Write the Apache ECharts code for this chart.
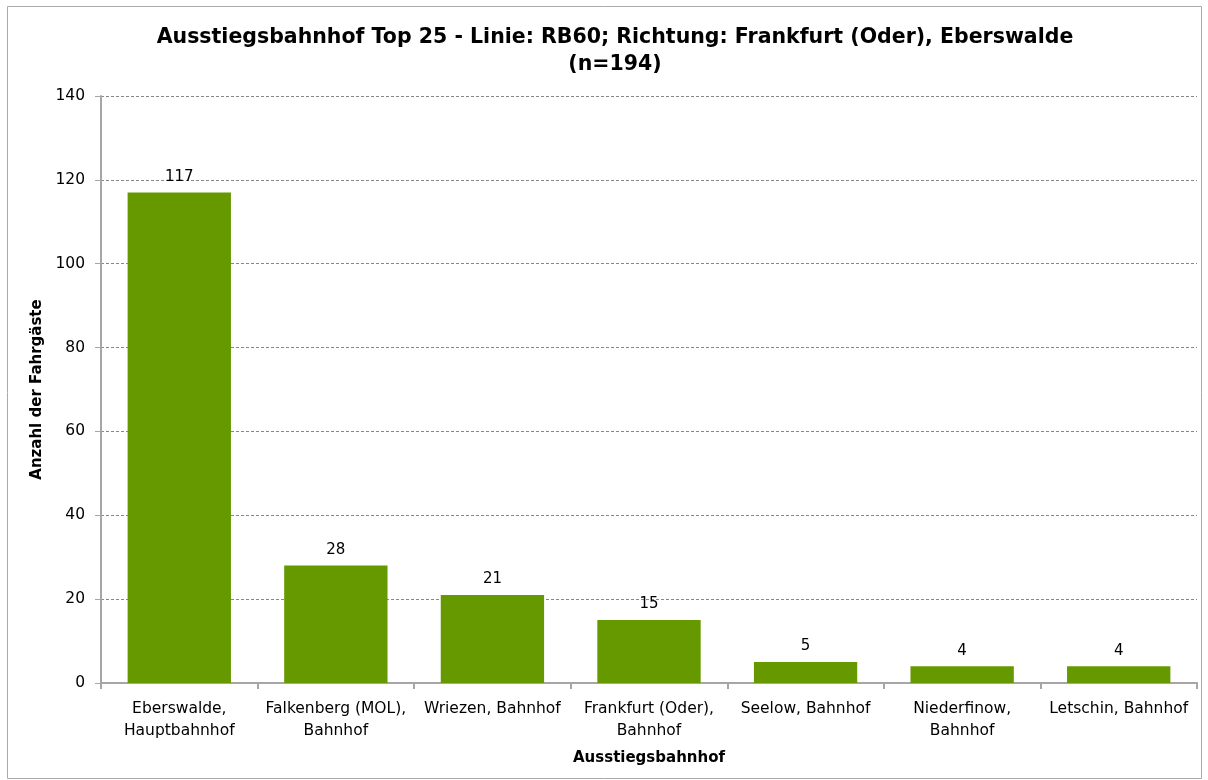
<!DOCTYPE html>
<html>
<head>
<meta charset="utf-8">
<script src="https://cdn.jsdelivr.net/npm/echarts@6/dist/echarts.min.js"></script>
<style>
  html, body { margin: 0; padding: 0; background: #fff; }
  #chart { width: 1208px; height: 780px; }
</style>
</head>
<body>
<div id="chart"></div>
<script>
var stations = [
  "Eberswalde,\nHauptbahnhof",
  "Falkenberg (MOL),\nBahnhof",
  "Wriezen, Bahnhof",
  "Frankfurt (Oder),\nBahnhof",
  "Seelow, Bahnhof",
  "Niederfinow,\nBahnhof",
  "Letschin, Bahnhof"
];
var passengers = [117, 28, 21, 15, 5, 4, 4];

var font = "DejaVu Sans, Verdana, sans-serif";
var chart = echarts.init(document.getElementById("chart"));

var option = {
  backgroundColor: "#fff",
  textStyle: { fontFamily: font },
  title: {
    text: "Ausstiegsbahnhof Top 25 - Linie: RB60; Richtung: Frankfurt (Oder), Eberswalde\n(n=194)",
    left: 610,
    textAlign: "center",
    top: 19,
    textStyle: {
      fontFamily: font,
      fontSize: 20.5,
      fontWeight: "bold",
      color: "#000",
      lineHeight: 27
    }
  },
  graphic: [
    {
      type: "rect",
      shape: { x: 7.5, y: 6.5, width: 1194, height: 772 },
      style: { fill: "none", stroke: "#aaa", lineWidth: 1 },
      silent: true
    }
  ],
  grid: { left: 101, right: 11, top: 96, bottom: 97 },
  xAxis: {
    type: "category",
    data: stations,
    name: "Ausstiegsbahnhof",
    nameLocation: "middle",
    nameGap: 68,
    nameTextStyle: { fontFamily: font, fontSize: 15, fontWeight: "bold", color: "#000" },
    axisLine: { lineStyle: { color: "#a6a6a6", width: 2 } },
    axisTick: { show: true, length: 6, lineStyle: { color: "#a6a6a6", width: 2 } },
    axisLabel: { fontFamily: font, fontSize: 15.5, color: "#000", margin: 15, lineHeight: 22, interval: 0 }
  },
  yAxis: {
    type: "value",
    min: 0,
    max: 140,
    interval: 20,
    name: "Anzahl der Fahrgäste",
    nameLocation: "middle",
    nameGap: 51,
    nameTextStyle: { fontFamily: font, fontSize: 15, fontWeight: "bold", color: "#000" },
    axisLine: { show: true, lineStyle: { color: "#a6a6a6", width: 2 } },
    axisTick: { show: true, length: 6, lineStyle: { color: "#a6a6a6" } },
    axisLabel: { fontFamily: font, fontSize: 15.5, color: "#000", margin: 16 },
    splitLine: { lineStyle: { color: "#888", type: [3, 2], width: 1 } }
  },
  series: [
    {
      type: "bar",
      data: passengers,
      barWidth: "66%",
      itemStyle: { color: "#669900" },
      label: {
        show: true,
        position: "top",
        distance: 8,
        fontFamily: font,
        fontSize: 15,
        color: "#000"
      }
    }
  ]
};
chart.setOption(option);
</script>
</body>
</html>
